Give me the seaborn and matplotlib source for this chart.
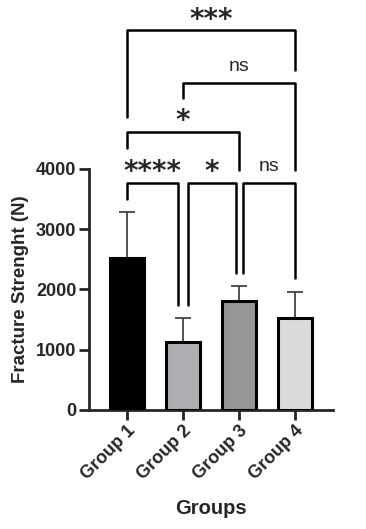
import numpy as np
import pandas as pd
import matplotlib
matplotlib.use("Agg")
import matplotlib.pyplot as plt
import seaborn as sns

# values (mean + SD, upward error bars only)
groups = ["Group 1", "Group 2", "Group 3", "Group 4"]
means = [2530, 1120, 1810, 1530]
sds = [760, 400, 250, 430]
bar_colors = ["#000000", "#aeaeb4", "#969696", "#dadada"]

# significance comparisons
comp_pairs = [(0, 1), (1, 2), (2, 3), (0, 2), (1, 3), (0, 3)]
comp_labels = ["****", "*", "ns", "*", "ns", "***"]
# bracket layout: (bar height, left leg bottom, right leg bottom, x offsets)
comp_level = [3770, 3770, 3770, 4620, 5430, 6300]
comp_left_end = [3500, 1740, 2270, 4350, 5180, 4860]
comp_right_end = [1740, 2270, 2190, 3980, 3980, 5640]
comp_dx = [(0, -0.09), (0.09, -0.06), (0.08, 0), (0, 0), (0, 0), (0, 0)]

sns.set_style("ticks")
plt.rcParams["font.family"] = ["Liberation Sans", "DejaVu Sans"]
plt.rcParams["font.weight"] = "bold"

df = pd.DataFrame({"group": groups, "strength": means})

fig = plt.figure(figsize=(3.66, 5.29), dpi=100)
ax = fig.add_axes([0.243, 0.225, 0.667, 0.4556])

sns.barplot(data=df, x="group", y="strength", hue="group", palette=bar_colors,
            width=0.62, errorbar=None, legend=False, ax=ax,
            edgecolor="black", linewidth=2.2, zorder=3)
ax.errorbar(np.arange(len(groups)), means, yerr=[np.zeros(len(sds)), sds],
            fmt="none", ecolor="#444444", elinewidth=1.3, capsize=6,
            capthick=1.3, zorder=2)

ax.set_xlim(-0.68, 3.68)
ax.set_ylim(0, 4000)
ax.set_yticks([0, 1000, 2000, 3000, 4000])
sns.despine(ax=ax)
for s in ["left", "bottom"]:
    ax.spines[s].set_linewidth(2)
ax.tick_params(axis="both", width=2, length=7, labelsize=13, pad=2)
ax.set_xticks(range(len(groups)))
ax.set_xticklabels(groups, rotation=45, ha="right", rotation_mode="anchor",
                   fontweight="bold", fontsize=13)
for lab in ax.get_yticklabels():
    lab.set_fontweight("bold")
ax.set_ylabel("Fracture Strenght (N)", fontsize=13.5, fontweight="bold", labelpad=5)
ax.set_xlabel("Groups", fontsize=14.5, fontweight="bold", labelpad=11)

for (i, j), lab, h, le, re, (dl, dr) in zip(comp_pairs, comp_labels, comp_level,
                                             comp_left_end, comp_right_end, comp_dx):
    x1, x2 = i + dl, j + dr
    ax.plot([x1, x1, x2, x2], [le, h, h, re], color="black", lw=1.8,
            clip_on=False, zorder=4)
    if lab == "ns":
        ax.text((x1 + x2) / 2, h + 130, lab, ha="center", va="bottom",
                fontsize=14, fontweight="normal", clip_on=False)
    else:
        ax.text((x1 + x2) / 2, h - 60, lab, ha="center", va="bottom",
                fontsize=20, fontweight="bold", family="DejaVu Sans",
                clip_on=False)

fig.savefig("out.png", dpi=100)
